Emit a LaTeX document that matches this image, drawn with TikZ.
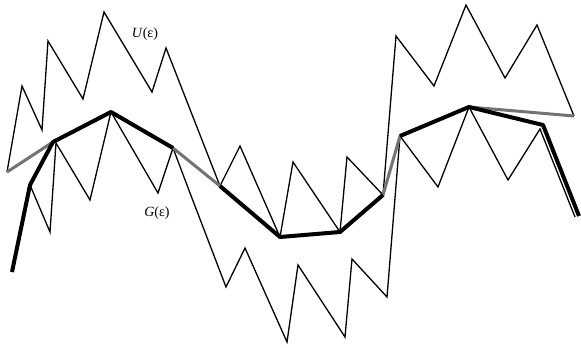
\documentclass[tikz,border=0pt]{standalone}
\usepackage{fontspec}
\setmainfont{Liberation Serif}
\begin{document}
\begin{tikzpicture}[x=1pt,y=-1pt,
  thinline/.style={line width=1.3pt,line join=miter,black},
  thickline/.style={line width=4pt,line join=round,line cap=butt,black},
  grayline/.style={line width=3pt,line join=round,black!55},
  lbl/.style={font=\fontsize{14}{16}\selectfont,inner sep=0pt}]
\useasboundingbox (0,0) rectangle (581,348);
% named vertices of the envelopes
\coordinate (g0) at (7,172);
\coordinate (g1) at (53,142);
\coordinate (g2) at (111,112);
\coordinate (g3) at (173,148);
\coordinate (g4) at (220,186);
\coordinate (g5) at (280,237);
\coordinate (g6) at (340,232);
\coordinate (g7) at (383,195);
\coordinate (g8) at (400,136);
\coordinate (g9) at (469,107);
\coordinate (g10) at (574,116);
\coordinate (b0) at (12,272);
\coordinate (b1) at (30,185);
\coordinate (b2) at (543,125);
\coordinate (b3) at (579,216);
% upper curve U
\draw[thinline] (g0) -- (22,86) -- (42,130) -- (48,41) -- (83,99) -- (104,12)
  -- (152,92) -- (166,48) -- (g4) -- (240,146) -- (g5) -- (293,162) -- (g6)
  -- (347,157) -- (g7) -- (396,36) -- (434,86) -- (466,5) -- (505,78)
  -- (537,25) -- (g10);
% lower curve
\draw[thinline] (b1) -- (50,232) -- (56,143) -- (90,200) -- (g2) -- (158,193)
  -- (g3) -- (190,193) -- (226,287) -- (245,248) -- (287,342) -- (298,265)
  -- (345,337) -- (352,259) -- (387,297) -- (g8) -- (438,187) -- (g9)
  -- (508,180) -- (540,129) -- (575,217);
% gray envelope
\draw[grayline] (g0) -- (g1) -- (g2) -- (g3) -- (g4) -- (g5) -- (g6) -- (g7)
  -- (g8) -- (g9) -- (g10);
% thick black path
\draw[thickline] (b0) -- (b1) -- (g1) -- (g2) -- (g3);
\draw[thickline] (g4) -- (g5) -- (g6) -- (g7);
\draw[thickline] (g8) -- (g9) -- (b2) -- (b3);
% labels
\node[lbl] (U) at (145,34) {\textit{U}(ε)};
\node[lbl] (G) at (157,213) {\textit{G}(ε)};
\end{tikzpicture}
\end{document}
